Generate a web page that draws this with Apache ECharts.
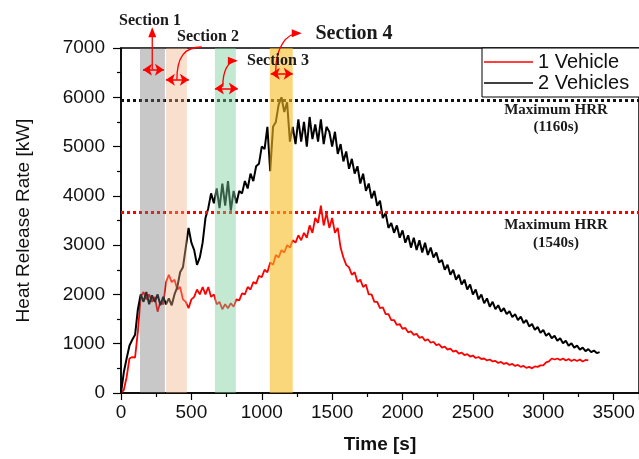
<!DOCTYPE html>
<html>
<head>
<meta charset="utf-8">
<script src="https://cdn.jsdelivr.net/npm/echarts@6/dist/echarts.min.js"></script>
<style>
  html, body { margin: 0; padding: 0; background: #fff; }
  #chart { width: 639px; height: 459px; }
</style>
</head>
<body>
<div id="chart"></div>
<script>
// sampled every 20 s
const step = 20;

// 2 Vehicles, t = 0 .. 3400 s
const hrr2 = [
  0, 420, 700, 960, 1080, 1180, 1700, 2000, 1850, 2050,
  1800, 1980, 1850, 2000, 1780, 1950, 1800, 1920, 1780, 2000,
  2150, 2450, 2550, 2950, 3350, 3050, 2900, 2600, 2750, 3050,
  3550, 3750, 4050, 3850, 4150, 3750, 4250, 3800, 4300, 3700,
  4100, 3850, 4100, 4050, 4300, 4150, 4450, 4300, 4600, 4650,
  5000, 4950, 5400, 4500, 5400, 5500, 5850, 6000, 5700, 5900,
  5100, 5400, 5050, 5550, 5100, 5500, 5000, 5600, 5150, 5450,
  5100, 5550, 5050, 5400, 5300, 5000, 5300, 4850, 5050, 4700,
  4900, 4550, 4750, 4450, 4600, 4250, 4450, 4100, 4250, 3950,
  4100, 3800, 3900, 3550, 3650, 3350, 3450, 3250, 3400, 3150,
  3300, 3050, 3200, 2950, 3150, 2900, 3100, 2850, 3050, 2800,
  2950, 2750, 2850, 2650, 2700, 2500, 2600, 2400, 2500, 2300,
  2400, 2200, 2300, 2100, 2200, 2000, 2100, 1900, 2000, 1820,
  1920, 1750, 1850, 1700, 1780, 1650, 1720, 1600, 1660, 1540,
  1600, 1480, 1550, 1420, 1480, 1350, 1400, 1280, 1340, 1220,
  1280, 1160, 1210, 1110, 1160, 1060, 1110, 1010, 1060, 960,
  1010, 920, 960, 880, 920, 850, 890, 830, 860, 810,
  830
];

// 1 Vehicle, t = 0 .. 3320 s
const hrr1 = [
  0, 60, 320, 700, 730, 720, 1250, 1950, 2050, 1900,
  2000, 1850, 1950, 1650, 1850, 1800, 2250, 2400, 2250, 2300,
  2100, 2150, 1900, 1850, 1720, 1900, 1950, 2100, 2000, 2150,
  2000, 2150, 1950, 2000, 1800, 1850, 1700, 1800, 1720, 1820,
  1750, 1900, 1880, 2020, 2000, 2150, 2100, 2250, 2220, 2380,
  2350, 2500, 2450, 2650, 2600, 2800, 2750, 2900, 2850, 3000,
  2950, 3100, 3050, 3200, 3100, 3250, 3150, 3400, 3250, 3550,
  3450, 3800, 3400, 3650, 3350, 3550, 3250, 3350, 2950, 2750,
  2600, 2550, 2400, 2450, 2250, 2300, 2150, 2200, 2000, 2000,
  1850, 1850, 1720, 1740, 1600, 1600, 1480, 1480, 1380, 1400,
  1300, 1320, 1230, 1250, 1180, 1200, 1120, 1140, 1060, 1090,
  1020, 1040, 970, 990, 920, 940, 880, 900, 840, 860,
  800, 820, 770, 790, 740, 760, 710, 730, 690, 700,
  660, 680, 640, 650, 610, 630, 590, 610, 570, 590,
  550, 570, 530, 550, 510, 530, 500, 540, 530, 560,
  560, 620, 640, 700, 680, 700, 670, 700, 660, 690,
  650, 680, 650, 680, 640, 670, 660
];

// shaded sections [start, end] in s
const sections = [
  [135, 312],
  [320, 468],
  [667, 816],
  [1057, 1220]
];
const sectionColors = [
  'rgba(117,117,117,0.40)',
  'rgba(237,175,132,0.40)',
  'rgba(122,206,157,0.45)',
  'rgba(248,188,37,0.60)'
];

// double arrows [x1, x2, y]
const spans = [
  [156, 305, 6558],
  [319, 482, 6357],
  [667, 830, 6176],
  [1064, 1220, 6477]
];
// leaders from arrow to label [x1, y1, x2, y2, bend, head]
const leaders = [
  [222, 6558, 222, 7380, 0, true],
  [397, 6357, 574, 7020, 0.7, false],
  [723, 6216, 816, 6740, 0.6, true],
  [1099, 6518, 1270, 7300, 0.6, true]
];

// maximum HRR levels
const maxHrr2 = 5950;
const maxHrr1 = 3670;

const toPairs = arr => arr.map((v, i) => [i * step, v]);

let myChart = echarts.init(document.getElementById('chart'), null, { renderer: 'canvas' });

const serif = '"Liberation Serif", "Times New Roman", serif';
const sans = '"Liberation Sans", Arial, sans-serif';
const red = '#ff0000';

const labelText = (x, y, text, size) => ({
  type: 'text', z: 100,
  style: { x: x, y: y, text: text, font: 'bold ' + size + 'px ' + serif, fill: '#1a1a1a', align: 'center', verticalAlign: 'middle' }
});

function buildOption(extraGraphics) {
  return {
    animation: false,
    backgroundColor: '#fff',
    grid: {
      left: 121, right: 0, top: 48, bottom: 63,
      show: true, borderColor: '#000', borderWidth: 1.5, backgroundColor: 'transparent'
    },
    legend: {
      orient: 'vertical',
      left: 482, top: 48,
      padding: [4, 40, 4, 2],
      itemGap: 1,
      itemWidth: 49, itemHeight: 1.5,
      icon: 'rect',
      backgroundColor: '#fff',
      borderColor: '#000', borderWidth: 1,
      textStyle: { fontFamily: sans, fontSize: 20, color: '#111' },
      data: ['1 Vehicle', '2 Vehicles']
    },
    xAxis: {
      type: 'value', min: 0, max: 3680, interval: 500,
      name: 'Time [s]', nameLocation: 'middle', nameGap: 42,
      nameTextStyle: { fontFamily: sans, fontSize: 19, fontWeight: 'bold', color: '#111' },
      axisLine: { lineStyle: { color: '#000', width: 1.5 } },
      axisTick: { length: 7, lineStyle: { color: '#000', width: 1.2 } },
      minorTick: { show: true, splitNumber: 2, length: 4, lineStyle: { color: '#000', width: 1.2 } },
      axisLabel: { fontFamily: sans, fontSize: 19, color: '#111', margin: 10, showMaxLabel: false, formatter: v => String(v) },
      splitLine: { show: false }
    },
    yAxis: {
      type: 'value', min: 0, max: 7000, interval: 1000,
      name: 'Heat Release Rate [kW]', nameLocation: 'middle', nameGap: 88,
      nameTextStyle: { fontFamily: sans, fontSize: 19, color: '#111' },
      axisLine: { lineStyle: { color: '#000', width: 1.5 } },
      axisTick: { length: 8, lineStyle: { color: '#000', width: 1.2 } },
      minorTick: { show: true, splitNumber: 2, length: 4, lineStyle: { color: '#000', width: 1.2 } },
      axisLabel: { fontFamily: sans, fontSize: 19, color: '#111', margin: 16, formatter: v => String(v) },
      splitLine: { show: false }
    },
    series: [
      {
        name: '1 Vehicle', type: 'line', z: 2,
        data: toPairs(hrr1),
        showSymbol: false, symbol: 'none',
        lineStyle: { color: red, width: 1.8 },
        itemStyle: { color: red },
        markLine: {
          silent: true, symbol: 'none',
          label: { show: false },
          lineStyle: { color: red, type: [3, 3], width: 3, opacity: 1 },
          data: [{ yAxis: maxHrr1 }]
        }
      },
      {
        name: '2 Vehicles', type: 'line', z: 2,
        data: toPairs(hrr2),
        showSymbol: false, symbol: 'none',
        lineStyle: { color: '#000', width: 2 },
        itemStyle: { color: '#000' },
        markLine: {
          silent: true, symbol: 'none',
          label: { show: false },
          lineStyle: { color: '#111', type: [3, 3], width: 3 },
          data: [{ yAxis: maxHrr2 }]
        }
      },
      {
        name: 'sections', type: 'line', z: 6, data: [],
        markArea: {
          silent: true, z: 6,
          data: sections.map((s, i) => [
            { xAxis: s[0], itemStyle: { color: sectionColors[i] } },
            { xAxis: s[1] }
          ])
        }
      },
      {
        name: 'spans', type: 'line', z: 8, data: [],
        markLine: {
          silent: true, z: 8, symbol: ['arrow', 'arrow'], symbolSize: 9,
          label: { show: false },
          lineStyle: { color: red, width: 1.5, type: 'solid' },
          data: spans.map(s => [{ coord: [s[0], s[2]] }, { coord: [s[1], s[2]] }])
        }
      }
    ],
    graphic: [
      labelText(150, 21, 'Section 1', 16),
      labelText(208, 37, 'Section 2', 16),
      labelText(278, 61, 'Section 3', 16),
      labelText(354, 34, 'Section 4', 20),
      labelText(556, 110, 'Maximum HRR', 15),
      labelText(556, 127, '(1160s)', 15),
      labelText(556, 225, 'Maximum HRR', 15),
      labelText(556, 243, '(1540s)', 15)
    ].concat(extraGraphics)
  };
}

myChart.setOption(buildOption([]));

// leaders: data coords -> pixels, so they may run above the plot
const px = p => myChart.convertToPixel({ gridIndex: 0 }, p);
const leaderGraphics = [];
leaders.forEach(l => {
  const a = px([l[0], l[1]]);
  const b = px([l[2], l[3]]);
  const k = l[4];
  // rise from the arrow first, then bend towards the label
  const c1 = [a[0], a[1] - (a[1] - b[1]) * k];
  const c2 = [b[0] - (b[0] - a[0]) * k, b[1]];
  leaderGraphics.push({
    type: 'bezierCurve', z: 90, silent: true,
    shape: { x1: a[0], y1: a[1], x2: b[0], y2: b[1], cpx1: c1[0], cpy1: c1[1], cpx2: c2[0], cpy2: c2[1] },
    style: { stroke: red, lineWidth: 1.3, fill: null }
  });
  if (l[5]) {
    const from = k ? c2 : a;
    let dx = b[0] - from[0], dy = b[1] - from[1];
    const len = Math.hypot(dx, dy) || 1;
    dx /= len; dy /= len;
    const s = 8, w = 4;
    leaderGraphics.push({
      type: 'polygon', z: 90, silent: true,
      shape: { points: [
        [b[0] + dx * 2, b[1] + dy * 2],
        [b[0] - dx * s - dy * w, b[1] - dy * s + dx * w],
        [b[0] - dx * s + dy * w, b[1] - dy * s - dx * w]
      ] },
      style: { fill: red }
    });
  }
});

myChart.setOption(buildOption(leaderGraphics), true);
</script>
</body>
</html>
